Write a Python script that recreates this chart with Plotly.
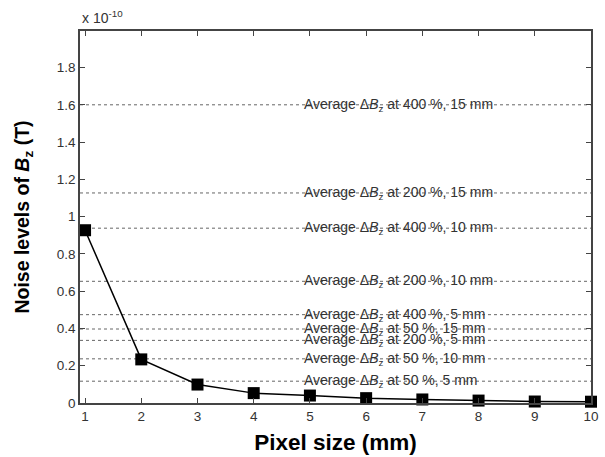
import plotly.graph_objects as go

# Pixel size (mm)
pixel_size = [1, 2, 3, 4, 5, 6, 7, 8, 9, 10]
# Noise levels of Bz, in units of 1e-10 T
noise_levels = [0.927, 0.234, 0.099, 0.053, 0.040, 0.026, 0.019, 0.013, 0.008, 0.007]

# Reference lines: average delta Bz (units of 1e-10 T)
ref_labels = [
    "400 %, 15 mm", "200 %, 15 mm", "400 %, 10 mm", "200 %, 10 mm",
    "400 %, 5 mm", "50 %, 15 mm", "200 %, 5 mm", "50 %, 10 mm", "50 %, 5 mm",
]
ref_values = [1.600, 1.127, 0.938, 0.653, 0.474, 0.397, 0.336, 0.237, 0.117]

y_ticks = [0, 0.2, 0.4, 0.6, 0.8, 1.0, 1.2, 1.4, 1.6, 1.8]
y_tick_text = ["0", "0.2", "0.4", "0.6", "0.8", "1", "1.2", "1.4", "1.6", "1.8"]
x_ticks = [1, 2, 3, 4, 5, 6, 7, 8, 9, 10]

label_x = 4.86
FONT = "Arial, Liberation Sans, sans-serif"

fig = go.Figure()

shapes = []
annotations = []
for lab, v in zip(ref_labels, ref_values):
    shapes.append(dict(type="line", xref="paper", yref="y", x0=0, x1=1, y0=v, y1=v,
                       line=dict(color="#666666", width=1, dash="dot"), layer="below"))
    annotations.append(dict(x=label_x, y=v, xref="x", yref="y", xanchor="left", yanchor="middle",
                            text="Average \u0394<i>B</i><sub>z</sub> at " + lab,
                            showarrow=False, font=dict(family=FONT, size=14, color="#333333")))

annotations.append(dict(x=0, y=1, xref="paper", yref="paper", xanchor="left", yanchor="bottom",
                        yshift=3, text="x 10<sup>-10</sup>", showarrow=False,
                        font=dict(family=FONT, size=14, color="#333333")))

fig.add_trace(go.Scatter(
    x=pixel_size, y=noise_levels, mode="lines+markers",
    line=dict(color="black", width=1.5),
    marker=dict(symbol="square", size=12, color="black"),
    showlegend=False, cliponaxis=False,
))

axis_common = dict(
    showline=True, linecolor="#444444", linewidth=1.5, mirror="ticks",
    ticks="inside", ticklen=5, tickcolor="#444444", tickwidth=1,
    showgrid=False, zeroline=False, automargin=False,
    tickfont=dict(family=FONT, size=13.5, color="#333333"),
)

fig.update_layout(
    width=605, height=457,
    margin=dict(l=80, r=14, t=31, b=54),
    plot_bgcolor="white", paper_bgcolor="white",
    shapes=shapes, annotations=annotations,
    xaxis=dict(range=[0.91, 10.0], tickvals=x_ticks,
               title=dict(text="<b>Pixel size (mm)</b>", standoff=11,
                          font=dict(family=FONT, size=22.5, color="black")),
               **axis_common),
    yaxis=dict(range=[0, 1.996], tickvals=y_ticks, ticktext=y_tick_text,
               title=dict(text="<b>Noise levels of <i>B</i><sub>z</sub> (T)</b>", standoff=22,
                          font=dict(family=FONT, size=19.5, color="black")),
               **axis_common),
)

fig.write_html("out.html", config={"displayModeBar": False},
               post_script="document.body.style.margin='0';document.body.style.overflow='hidden';")
